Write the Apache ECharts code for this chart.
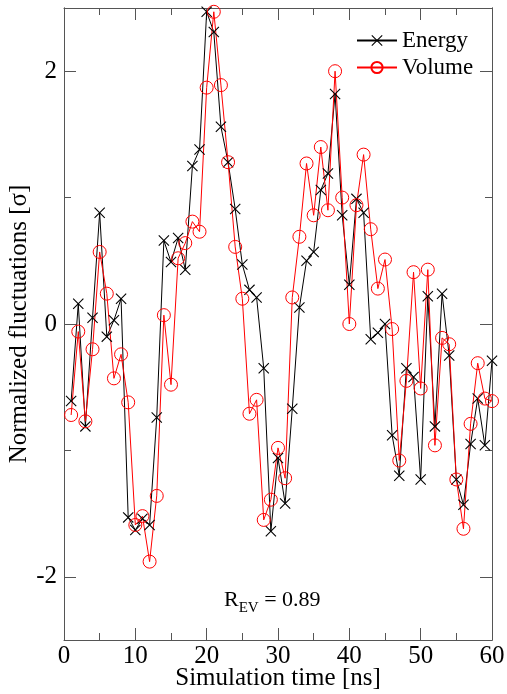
<!DOCTYPE html>
<html lang="en">
<head>
    <meta charset="UTF-8">
    <title>Energy vs Volume fluctuations</title>
    <script src="https://cdn.jsdelivr.net/npm/echarts@6/dist/echarts.min.js"></script>
</head>
<body style="margin:0">
<div id="main" style="width: 507px;height:694px;"></div>
<script type="text/javascript">
    // simulation time [ns]
    var timeNs = [1, 2, 3, 4, 5, 6, 7, 8, 9, 10, 11, 12, 13, 14, 15, 16, 17, 18, 19, 20,
        21, 22, 23, 24, 25, 26, 27, 28, 29, 30, 31, 32, 33, 34, 35, 36, 37, 38, 39, 40,
        41, 42, 43, 44, 45, 46, 47, 48, 49, 50, 51, 52, 53, 54, 55, 56, 57, 58, 59, 60];
    // normalized fluctuations
    var energy = [-0.61, 0.16, -0.81, 0.05, 0.88, -0.10, 0.03, 0.20, -1.53, -1.63,
        -1.54, -1.59, -0.74, 0.66, 0.49, 0.68, 0.43, 1.25, 1.38, 2.47,
        2.31, 1.56, 1.28, 0.91, 0.47, 0.27, 0.21, -0.35, -1.64, -1.06,
        -1.42, -0.67, 0.13, 0.50, 0.57, 1.06, 1.19, 1.82, 0.86, 0.31,
        0.99, 0.88, -0.12, -0.07, 0.00, -0.88, -1.20, -0.35, -0.42, -1.23,
        0.22, -0.81, 0.24, -0.25, -1.23, -1.43, -0.95, -0.59, -0.96, -0.29];
    var volume = [-0.72, -0.06, -0.77, -0.20, 0.57, 0.24, -0.43, -0.24, -0.62, -1.59,
        -1.52, -1.88, -1.36, 0.07, -0.48, 0.52, 0.64, 0.81, 0.73, 1.87,
        2.47, 1.89, 1.28, 0.61, 0.20, -0.71, -0.60, -1.55, -1.39, -0.98,
        -1.22, 0.21, 0.69, 1.27, 0.86, 1.40, 0.90, 2.00, 1.00, 0.00,
        0.94, 1.34, 0.75, 0.28, 0.51, -0.04, -1.08, -0.45, 0.41, -0.51,
        0.43, -0.96, -0.11, -0.16, -1.23, -1.62, -0.79, -0.31, -0.59, -0.61];
    var yMajorTicks = [-2, 0, 2];
    var yMinorTicks = [-1, 1];

    function pairs(xs, ys) {
        return xs.map(function (x, i) { return [x, ys[i]]; });
    }

    var serif = 'Liberation Serif';
    var axisColor = '#555';
    var crossSymbol = 'path://M0.7,0L5,4.3L9.3,0L10,0.7L5.7,5L10,9.3L9.3,10L5,5.7L0.7,10L0,9.3L4.3,5L0,0.7Z';

    var myChart = echarts.init(document.getElementById('main'));

    function xAxisDef(pos, showLabel) {
        return {
            type: 'value', position: pos, min: 0, max: 60, interval: 10,
            axisLine: {show: true, onZero: false, lineStyle: {color: axisColor}},
            axisTick: {inside: true, length: 12, lineStyle: {color: axisColor}},
            minorTick: {show: true, splitNumber: 2, length: 7, lineStyle: {color: axisColor}},
            splitLine: {show: false},
            axisLabel: {show: showLabel, color: '#000', fontFamily: serif, fontSize: 25, margin: 4},
            name: showLabel ? 'Simulation time [ns]' : '',
            nameLocation: 'middle', nameGap: 26, nameMoveOverlap: false,
            nameTextStyle: {color: '#000', fontFamily: serif, fontSize: 25}
        };
    }

    function yAxisDef(pos, ticks, len, showLabel) {
        return {
            type: 'value', position: pos, min: -2.5, max: 2.5,
            axisLine: {show: true, onZero: false, lineStyle: {color: axisColor}},
            axisTick: {inside: true, length: len, customValues: ticks, lineStyle: {color: axisColor}},
            splitLine: {show: false},
            axisLabel: {show: showLabel, customValues: ticks, color: '#000', fontFamily: serif, fontSize: 25, margin: 7},
            name: showLabel ? 'Normalized fluctuations [σ]' : '',
            nameLocation: 'middle', nameGap: 32, nameMoveOverlap: false,
            nameTextStyle: {color: '#000', fontFamily: serif, fontSize: 25}
        };
    }

    var option = {
        animation: false,
        backgroundColor: '#fff',
        grid: {left: 64, right: 15, top: 8, bottom: 54, outerBoundsMode: 'none'},
        legend: {
            orient: 'vertical', left: 351, top: 24, itemGap: 4,
            itemWidth: 40, itemHeight: 14,
            textStyle: {color: '#000', fontFamily: serif, fontSize: 23},
            data: ['Energy', 'Volume']
        },
        xAxis: [xAxisDef('bottom', true), xAxisDef('top', false)],
        yAxis: [
            yAxisDef('left', yMajorTicks, 12, true),
            yAxisDef('right', yMajorTicks, 12, false),
            yAxisDef('left', yMinorTicks, 7, false),
            yAxisDef('right', yMinorTicks, 7, false)
        ],
        graphic: [{
            type: 'text', left: 224, top: 589,
            style: {
                text: '{a|R}{b|EV}{a| = 0.89}',
                rich: {
                    a: {fontFamily: serif, fontSize: 22, fill: '#000', verticalAlign: 'top'},
                    b: {fontFamily: serif, fontSize: 15, fill: '#000', padding: [12, 0, 0, 0], verticalAlign: 'top'}
                }
            }
        }],
        series: [{
            name: 'Energy', type: 'line', data: pairs(timeNs, energy),
            symbol: crossSymbol, symbolSize: 11,
            itemStyle: {color: '#000'},
            lineStyle: {color: '#000', width: 1}
        }, {
            name: 'Volume', type: 'line', data: pairs(timeNs, volume),
            symbol: 'circle', symbolSize: 13,
            itemStyle: {color: 'rgba(0,0,0,0)', borderColor: '#ff0000', borderWidth: 1},
            lineStyle: {color: '#ff0000', width: 1}
        }]
    };

    myChart.setOption(option);
</script>
</body>
</html>
